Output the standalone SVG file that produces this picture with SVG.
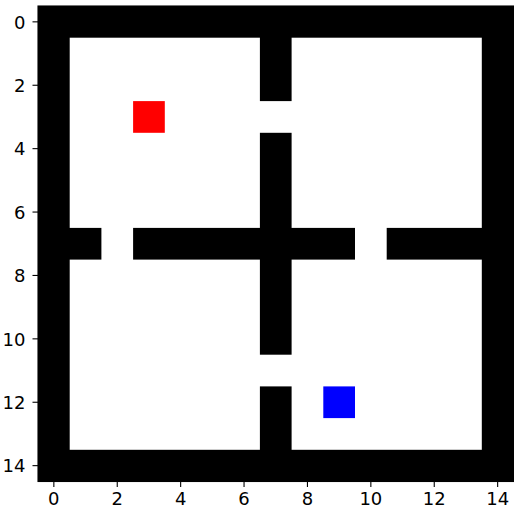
<svg xmlns="http://www.w3.org/2000/svg" width="514" height="510" viewBox="0 0 514 510">
<style>
.w{fill:#000}
.t{stroke:#000;stroke-width:1.1}
.l{font-family:"DejaVu Sans",sans-serif;font-size:18px;fill:#000}
.xl{text-anchor:middle}
.yl{text-anchor:end}
</style>
<rect width="514" height="510" fill="#fff"/>
<g id="grid">
<rect x="38" y="6" width="475.5" height="475.5" fill="#fff"/>
<rect class="w" x="38" y="6" width="475.5" height="31.7"/>
<rect class="w" x="38" y="449.8" width="475.5" height="31.7"/>
<rect class="w" x="38" y="6" width="31.7" height="475.5"/>
<rect class="w" x="481.8" y="6" width="31.7" height="475.5"/>
<rect class="w" x="38" y="227.9" width="63.4" height="31.7"/>
<rect class="w" x="133.1" y="227.9" width="221.9" height="31.7"/>
<rect class="w" x="386.7" y="227.9" width="126.8" height="31.7"/>
<rect class="w" x="259.9" y="6" width="31.7" height="95.1"/>
<rect class="w" x="259.9" y="132.8" width="31.7" height="221.9"/>
<rect class="w" x="259.9" y="386.4" width="31.7" height="95.1"/>
</g>
<g id="red"><rect x="133.1" y="101.1" width="31.7" height="31.7" fill="#ff0000"/></g>
<g id="blue"><rect x="323.3" y="386.4" width="31.7" height="31.7" fill="#0000ff"/></g>
<g id="axes">
<rect x="38" y="6" width="475.5" height="475.5" fill="none" stroke="#000" stroke-width="1.1"/>
<g class="t">
<line x1="53.85" y1="481.5" x2="53.85" y2="487"/>
<line x1="117.25" y1="481.5" x2="117.25" y2="487"/>
<line x1="180.65" y1="481.5" x2="180.65" y2="487"/>
<line x1="244.05" y1="481.5" x2="244.05" y2="487"/>
<line x1="307.45" y1="481.5" x2="307.45" y2="487"/>
<line x1="370.85" y1="481.5" x2="370.85" y2="487"/>
<line x1="434.25" y1="481.5" x2="434.25" y2="487"/>
<line x1="497.65" y1="481.5" x2="497.65" y2="487"/>
<line x1="32.5" y1="21.85" x2="38" y2="21.85"/>
<line x1="32.5" y1="85.25" x2="38" y2="85.25"/>
<line x1="32.5" y1="148.65" x2="38" y2="148.65"/>
<line x1="32.5" y1="212.05" x2="38" y2="212.05"/>
<line x1="32.5" y1="275.45" x2="38" y2="275.45"/>
<line x1="32.5" y1="338.85" x2="38" y2="338.85"/>
<line x1="32.5" y1="402.25" x2="38" y2="402.25"/>
<line x1="32.5" y1="465.65" x2="38" y2="465.65"/>
</g>
<g class="l xl">
<text x="53.85" y="505">0</text>
<text x="117.25" y="505">2</text>
<text x="180.65" y="505">4</text>
<text x="244.05" y="505">6</text>
<text x="307.45" y="505">8</text>
<text x="370.85" y="505">10</text>
<text x="434.25" y="505">12</text>
<text x="497.65" y="505">14</text>
</g>
<g class="l yl">
<text x="25.5" y="28.5">0</text>
<text x="25.5" y="91.9">2</text>
<text x="25.5" y="155.3">4</text>
<text x="25.5" y="218.7">6</text>
<text x="25.5" y="282.1">8</text>
<text x="25.5" y="345.5">10</text>
<text x="25.5" y="408.9">12</text>
<text x="25.5" y="472.3">14</text>
</g>
</g>
</svg>
